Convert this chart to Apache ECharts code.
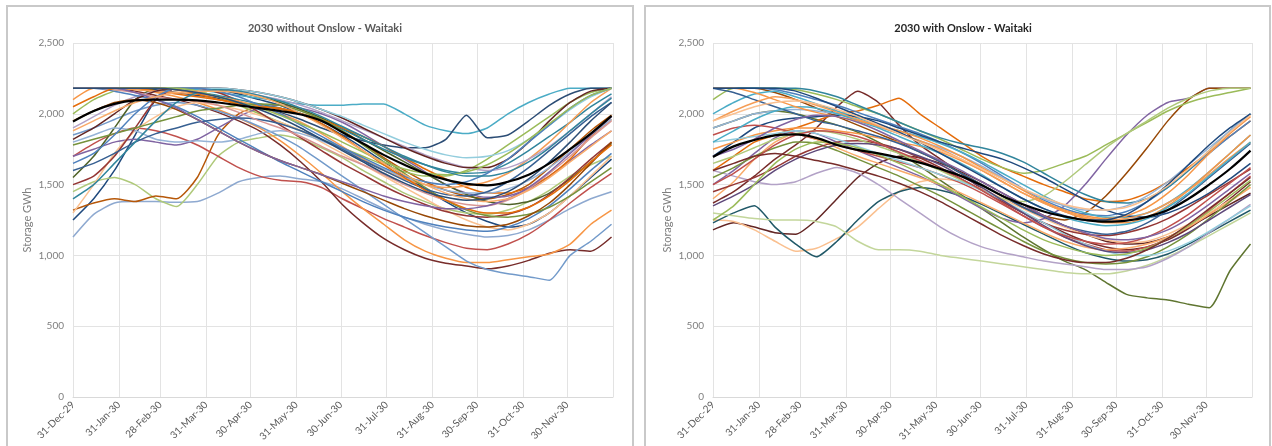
<!DOCTYPE html>
<html>
<head>
<meta charset="utf-8">
<script src="https://cdn.jsdelivr.net/npm/echarts@6/dist/echarts.min.js"></script>
<style>
    html, body { margin: 0; padding: 0; background: #fff; }
    #chart { width: 1272px; height: 446px; }
</style>
</head>
<body>
<div id="chart"></div>
<script>
// one value every 14 days, starting 31-Dec-29
const stepDays = 14;
const monthEndDays = [0, 31, 59, 90, 120, 151, 181, 212, 243, 273, 304, 334];
const monthEndLabels = ['31-Dec-29', '31-Jan-30', '28-Feb-30', '31-Mar-30', '30-Apr-30', '31-May-30',
    '30-Jun-30', '31-Jul-30', '31-Aug-30', '30-Sep-30', '31-Oct-30', '30-Nov-30'];
const lastDay = 365;
const yTicks = [0, 500, 1000, 1500, 2000, 2500];

const titles = ['2030 without Onslow - Waitaki', '2030 with Onslow - Waitaki'];

// 2030 without Onslow - Waitaki
const withoutMean = [1945, 2020, 2070, 2095, 2100, 2100, 2095, 2080, 2060, 2040, 2020, 1995, 1950, 1870, 1790, 1710, 1640, 1580, 1535, 1505, 1495, 1520, 1570, 1650, 1750, 1860, 1985];
const withoutRuns = [
    [1130, 1290, 1370, 1380, 1380, 1375, 1380, 1440, 1520, 1550, 1560, 1540, 1520, 1470, 1400, 1330, 1270, 1220, 1180, 1150, 1130, 1140, 1180, 1250, 1330, 1400, 1450],
    [1250, 1400, 1600, 1850, 2100, 2180, 2180, 2170, 2140, 2100, 2060, 2000, 1930, 1850, 1760, 1660, 1560, 1470, 1380, 1300, 1240, 1200, 1220, 1300, 1420, 1550, 1680],
    [1450, 1520, 1550, 1500, 1400, 1345, 1500, 1700, 1800, 1830, 1850, 1820, 1760, 1690, 1600, 1520, 1440, 1380, 1330, 1300, 1290, 1320, 1380, 1460, 1560, 1640, 1700],
    [1320, 1370, 1400, 1380, 1420, 1400, 1550, 1850, 2000, 2050, 2040, 2000, 1950, 1880, 1790, 1690, 1600, 1520, 1460, 1420, 1400, 1430, 1500, 1620, 1750, 1880, 1990],
    [1700, 1790, 1860, 1900, 1880, 1840, 1780, 1700, 1620, 1560, 1530, 1520, 1480, 1400, 1330, 1260, 1200, 1140, 1090, 1050, 1040, 1080, 1150, 1250, 1370, 1480, 1580],
    [2180, 2180, 2180, 2160, 2130, 2100, 2060, 2010, 1950, 1880, 1780, 1660, 1520, 1360, 1230, 1120, 1040, 980, 945, 925, 905, 925, 965, 1015, 1040, 1030, 1130],
    [2100, 2180, 2180, 2180, 2150, 2120, 2080, 2030, 1970, 1900, 1810, 1700, 1580, 1450, 1330, 1220, 1110, 1030, 980, 950, 950, 970, 990, 1010, 1080, 1220, 1320],
    [1850, 1900, 1960, 2020, 2060, 2080, 2060, 2020, 1970, 1910, 1840, 1760, 1660, 1560, 1460, 1360, 1260, 1160, 1060, 960, 900, 870, 850, 825, 1000, 1100, 1220],
    [2180, 2180, 2180, 2180, 2180, 2180, 2170, 2150, 2130, 2110, 2090, 2070, 2060, 2060, 2070, 2070, 2000, 1920, 1880, 1860, 1900, 2000, 2080, 2140, 2180, 2180, 2180],
    [2180, 2180, 2180, 2180, 2170, 2150, 2130, 2110, 2080, 2050, 2010, 1960, 1900, 1850, 1810, 1780, 1760, 1760, 1820, 1990, 1830, 1850, 1950, 2060, 2140, 2180, 2180],
    [2000, 2100, 2160, 2180, 2180, 2180, 2160, 2120, 2060, 2000, 1940, 1880, 1820, 1760, 1700, 1640, 1590, 1560, 1560, 1600, 1680, 1780, 1880, 1980, 2080, 2150, 2180],
    [1700, 1750, 1800, 1820, 1800, 1780, 1820, 1900, 1980, 2040, 2060, 2040, 2000, 1940, 1860, 1770, 1680, 1590, 1500, 1440, 1410, 1420, 1470, 1560, 1670, 1780, 1880],
    [1550, 1700, 1900, 2100, 2180, 2180, 2180, 2170, 2150, 2120, 2080, 2030, 1970, 1900, 1820, 1740, 1660, 1580, 1500, 1430, 1380, 1360, 1380, 1440, 1540, 1660, 1790],
    [2180, 2180, 2180, 2180, 2160, 2140, 2120, 2100, 2080, 2060, 2030, 2000, 1960, 1900, 1840, 1770, 1690, 1610, 1540, 1480, 1440, 1440, 1480, 1560, 1680, 1840, 1960],
    [1300, 1500, 1720, 1880, 1980, 2050, 2080, 2060, 2030, 1990, 1940, 1880, 1800, 1720, 1640, 1560, 1480, 1400, 1320, 1250, 1200, 1180, 1220, 1300, 1420, 1560, 1700],
    [1800, 1850, 1900, 1880, 1820, 1800, 1810, 1800, 1820, 1860, 1880, 1860, 1810, 1750, 1680, 1610, 1550, 1500, 1460, 1440, 1440, 1470, 1530, 1620, 1730, 1850, 1960],
    [1500, 1560, 1700, 1900, 2100, 2180, 2180, 2150, 2090, 2010, 1920, 1830, 1740, 1650, 1570, 1490, 1420, 1360, 1310, 1280, 1270, 1290, 1340, 1430, 1550, 1680, 1800],
    [2180, 2180, 2180, 2180, 2180, 2170, 2150, 2130, 2100, 2070, 2040, 2000, 1950, 1890, 1820, 1750, 1690, 1640, 1600, 1580, 1590, 1650, 1740, 1840, 1940, 2050, 2140],
    [2180, 2180, 2180, 2170, 2160, 2150, 2140, 2120, 2090, 2050, 2000, 1940, 1860, 1770, 1680, 1600, 1540, 1500, 1480, 1490, 1520, 1580, 1680, 1800, 1940, 2080, 2180],
    [1900, 1980, 2060, 2120, 2160, 2180, 2180, 2180, 2160, 2130, 2100, 2060, 2010, 1950, 1890, 1830, 1770, 1710, 1660, 1620, 1600, 1620, 1680, 1770, 1880, 2000, 2120],
    [2180, 2180, 2160, 2130, 2100, 2050, 1980, 1900, 1820, 1740, 1660, 1590, 1520, 1450, 1380, 1320, 1270, 1230, 1200, 1180, 1170, 1200, 1260, 1350, 1470, 1600, 1720],
    [1780, 1820, 1860, 1900, 1940, 1980, 2020, 2040, 2060, 2070, 2060, 2020, 1960, 1880, 1780, 1680, 1580, 1480, 1390, 1320, 1280, 1270, 1290, 1340, 1420, 1520, 1620],
    [1820, 1900, 2000, 2100, 2160, 2180, 2180, 2180, 2170, 2150, 2120, 2080, 2030, 1970, 1900, 1830, 1760, 1700, 1650, 1620, 1620, 1680, 1800, 1950, 2080, 2160, 2180],
    [2180, 2180, 2180, 2180, 2180, 2180, 2180, 2180, 2170, 2150, 2120, 2080, 2030, 1980, 1920, 1860, 1800, 1750, 1710, 1690, 1700, 1740, 1820, 1920, 2030, 2120, 2180],
    [1950, 2020, 2080, 2100, 2080, 2030, 1960, 1880, 1800, 1730, 1670, 1620, 1570, 1510, 1450, 1390, 1330, 1280, 1240, 1210, 1200, 1220, 1280, 1370, 1500, 1650, 1800],
    [1600, 1650, 1720, 1800, 1860, 1900, 1940, 1960, 1970, 1960, 1930, 1880, 1820, 1750, 1670, 1600, 1530, 1470, 1430, 1420, 1450, 1520, 1620, 1740, 1860, 1980, 2080],
    [2180, 2180, 2170, 2150, 2120, 2100, 2090, 2060, 2010, 1950, 1900, 1840, 1770, 1700, 1640, 1570, 1500, 1440, 1390, 1360, 1350, 1390, 1470, 1580, 1700, 1830, 1950],
    [1650, 1720, 1850, 2000, 2120, 2180, 2180, 2160, 2120, 2060, 2000, 1920, 1840, 1760, 1690, 1620, 1560, 1520, 1500, 1520, 1580, 1680, 1800, 1920, 2040, 2130, 2180],
    [2050, 2120, 2180, 2180, 2180, 2170, 2140, 2100, 2070, 2050, 2040, 2000, 1930, 1840, 1740, 1640, 1550, 1460, 1390, 1330, 1300, 1300, 1340, 1420, 1530, 1660, 1780],
    [2180, 2180, 2180, 2180, 2180, 2180, 2160, 2120, 2080, 2040, 1990, 1930, 1870, 1800, 1730, 1660, 1610, 1580, 1570, 1590, 1640, 1720, 1820, 1930, 2040, 2130, 2180],
    [2180, 2180, 2180, 2150, 2100, 2040, 1960, 1880, 1800, 1730, 1670, 1620, 1570, 1520, 1470, 1420, 1380, 1350, 1330, 1330, 1350, 1400, 1480, 1590, 1720, 1850, 1980],
    [1400, 1500, 1650, 1800, 1950, 2080, 2150, 2170, 2160, 2130, 2090, 2040, 1980, 1910, 1840, 1770, 1700, 1640, 1590, 1560, 1560, 1590, 1660, 1760, 1880, 2000, 2110],
    [1880, 1950, 2020, 2080, 2120, 2150, 2160, 2160, 2150, 2120, 2070, 2000, 1920, 1830, 1740, 1650, 1570, 1500, 1440, 1400, 1380, 1400, 1460, 1550, 1660, 1770, 1880],
    [2180, 2180, 2180, 2180, 2180, 2170, 2150, 2120, 2080, 2030, 1970, 1900, 1820, 1740, 1660, 1580, 1510, 1450, 1410, 1390, 1400, 1450, 1540, 1660, 1800, 1950, 2080]
];

// 2030 with Onslow - Waitaki
const withMean = [1695, 1770, 1815, 1848, 1855, 1830, 1780, 1745, 1720, 1690, 1655, 1610, 1560, 1495, 1420, 1360, 1310, 1275, 1250, 1238, 1245, 1272, 1320, 1400, 1500, 1610, 1740];
const withRuns = [
    [1900, 1950, 2000, 2020, 2000, 1960, 1920, 1870, 1800, 1720, 1630, 1530, 1430, 1330, 1230, 1130, 1040, 960, 900, 810, 725, 700, 685, 655, 630, 890, 1080],
    [1370, 1450, 1560, 1680, 1780, 1900, 2050, 2160, 2080, 1920, 1780, 1680, 1580, 1470, 1380, 1300, 1230, 1160, 1100, 1060, 1040, 1060, 1110, 1190, 1290, 1400, 1520],
    [1180, 1230, 1200, 1160, 1150, 1250, 1400, 1550, 1650, 1700, 1690, 1650, 1590, 1520, 1440, 1360, 1280, 1210, 1150, 1100, 1080, 1090, 1130, 1200, 1280, 1360, 1440],
    [1250, 1240, 1180, 1100, 1030, 1050, 1120, 1200, 1330, 1450, 1520, 1540, 1520, 1470, 1400, 1330, 1260, 1200, 1150, 1110, 1090, 1100, 1150, 1220, 1300, 1390, 1480],
    [1230, 1300, 1350, 1200, 1080, 990, 1100, 1250, 1380, 1450, 1480, 1460, 1420, 1360, 1290, 1220, 1150, 1080, 1020, 980, 960, 970, 1010, 1080, 1160, 1240, 1320],
    [1300, 1280, 1260, 1250, 1250, 1240, 1200, 1100, 1040, 1040, 1030, 1000, 980, 960, 940, 920, 900, 880, 870, 870, 890, 930, 990, 1060, 1140, 1220, 1300],
    [1600, 1700, 1800, 1850, 1900, 1950, 2000, 2020, 2060, 2110, 2000, 1900, 1800, 1700, 1620, 1560, 1500, 1450, 1400, 1380, 1390, 1440, 1520, 1620, 1730, 1840, 1950],
    [1500, 1600, 1720, 1830, 1880, 1860, 1800, 1740, 1680, 1620, 1560, 1490, 1410, 1330, 1260, 1230, 1260, 1350, 1500, 1680, 1850, 1990, 2080, 2110, 2180, 2180, 2180],
    [2180, 2180, 2180, 2150, 2100, 2040, 1980, 1920, 1860, 1800, 1730, 1660, 1580, 1500, 1420, 1340, 1280, 1250, 1300, 1420, 1580, 1760, 1950, 2100, 2180, 2180, 2180],
    [2100, 2180, 2180, 2180, 2170, 2140, 2100, 2050, 2000, 1940, 1880, 1820, 1750, 1680, 1620, 1580, 1600, 1650, 1700, 1780, 1860, 1940, 2020, 2080, 2120, 2150, 2180],
    [2180, 2180, 2180, 2170, 2140, 2100, 2060, 2010, 1960, 1910, 1860, 1800, 1730, 1650, 1560, 1470, 1390, 1330, 1290, 1280, 1310, 1380, 1480, 1600, 1720, 1840, 1950],
    [2000, 2080, 2140, 2160, 2120, 2070, 2020, 1970, 1920, 1880, 1840, 1790, 1730, 1660, 1580, 1500, 1420, 1350, 1300, 1270, 1270, 1300, 1370, 1470, 1590, 1720, 1850],
    [1700, 1800, 1900, 1950, 1970, 1980, 1990, 1980, 1950, 1900, 1850, 1800, 1760, 1720, 1680, 1620, 1550, 1470, 1390, 1320, 1280, 1270, 1300, 1360, 1440, 1540, 1650],
    [1750, 1800, 1850, 1880, 1900, 1900, 1880, 1860, 1830, 1800, 1770, 1730, 1670, 1600, 1520, 1440, 1370, 1310, 1260, 1230, 1230, 1270, 1350, 1460, 1590, 1720, 1850],
    [1850, 1900, 1920, 1900, 1860, 1820, 1780, 1740, 1700, 1660, 1620, 1570, 1510, 1440, 1360, 1280, 1200, 1130, 1080, 1040, 1030, 1060, 1120, 1210, 1320, 1440, 1560],
    [1600, 1560, 1520, 1500, 1520, 1580, 1620, 1580, 1500, 1400, 1300, 1200, 1120, 1060, 1020, 990, 960, 940, 920, 900, 900, 920, 980, 1060, 1160, 1260, 1360],
    [2180, 2180, 2180, 2180, 2180, 2160, 2120, 2060, 2000, 1940, 1880, 1830, 1790, 1760, 1720, 1660, 1580, 1500, 1430, 1380, 1370, 1400, 1480, 1600, 1740, 1880, 2000],
    [1400, 1520, 1680, 1800, 1860, 1820, 1760, 1700, 1650, 1600, 1550, 1500, 1440, 1370, 1300, 1230, 1160, 1100, 1060, 1040, 1050, 1080, 1130, 1200, 1290, 1380, 1480],
    [1550, 1620, 1700, 1760, 1800, 1790, 1740, 1680, 1620, 1560, 1490, 1420, 1340, 1260, 1180, 1100, 1030, 980, 950, 940, 950, 990, 1060, 1150, 1260, 1380, 1500],
    [1900, 1950, 2000, 2020, 2030, 2020, 2000, 1960, 1910, 1860, 1810, 1760, 1700, 1630, 1550, 1470, 1400, 1350, 1320, 1320, 1350, 1420, 1520, 1640, 1760, 1880, 2000],
    [1450, 1500, 1550, 1620, 1700, 1760, 1800, 1810, 1790, 1750, 1690, 1620, 1540, 1460, 1380, 1300, 1230, 1180, 1150, 1140, 1160, 1200, 1260, 1340, 1430, 1520, 1610],
    [2180, 2150, 2100, 2050, 2000, 1950, 1920, 1880, 1840, 1790, 1730, 1660, 1580, 1500, 1420, 1340, 1270, 1210, 1170, 1150, 1170, 1230, 1320, 1430, 1550, 1670, 1790],
    [1650, 1700, 1760, 1820, 1860, 1880, 1860, 1820, 1770, 1720, 1660, 1600, 1530, 1460, 1400, 1380, 1420, 1520, 1640, 1760, 1860, 1950, 2040, 2110, 2160, 2180, 2180],
    [1950, 2020, 2080, 2120, 2100, 2060, 2010, 1960, 1910, 1860, 1810, 1750, 1680, 1600, 1520, 1440, 1370, 1310, 1270, 1250, 1260, 1300, 1370, 1460, 1570, 1690, 1800],
    [1800, 1820, 1840, 1860, 1880, 1860, 1820, 1770, 1720, 1670, 1620, 1570, 1520, 1460, 1390, 1310, 1230, 1150, 1080, 1030, 1000, 1000, 1030, 1090, 1170, 1260, 1350],
    [1350, 1420, 1500, 1600, 1680, 1740, 1780, 1790, 1780, 1750, 1700, 1640, 1560, 1480, 1390, 1300, 1210, 1130, 1070, 1030, 1020, 1040, 1090, 1160, 1250, 1340, 1430],
    [1800, 1880, 1960, 2020, 2050, 2040, 2000, 1950, 1900, 1840, 1780, 1720, 1650, 1570, 1480, 1400, 1330, 1270, 1230, 1210, 1220, 1260, 1340, 1440, 1560, 1680, 1800],
    [1500, 1580, 1680, 1780, 1850, 1880, 1870, 1840, 1790, 1730, 1670, 1610, 1540, 1460, 1370, 1280, 1200, 1140, 1100, 1080, 1090, 1130, 1200, 1290, 1400, 1510, 1620],
    [2180, 2180, 2150, 2100, 2050, 2010, 1980, 1950, 1920, 1880, 1830, 1770, 1700, 1620, 1540, 1460, 1380, 1320, 1280, 1260, 1280, 1340, 1440, 1570, 1720, 1860, 1980],
    [1250, 1350, 1500, 1650, 1750, 1800, 1790, 1760, 1710, 1650, 1580, 1500, 1420, 1340, 1260, 1180, 1110, 1060, 1020, 1000, 1010, 1050, 1120, 1210, 1310, 1420, 1530],
    [2180, 2180, 2180, 2180, 2160, 2110, 2050, 1990, 1930, 1870, 1800, 1720, 1640, 1560, 1480, 1400, 1330, 1280, 1250, 1250, 1290, 1380, 1500, 1640, 1780, 1900, 2000],
    [1700, 1750, 1820, 1900, 1960, 1990, 1980, 1940, 1880, 1810, 1740, 1670, 1600, 1520, 1440, 1360, 1280, 1210, 1160, 1120, 1110, 1130, 1180, 1260, 1360, 1470, 1580],
    [1950, 2000, 2050, 2080, 2090, 2070, 2030, 1980, 1920, 1860, 1800, 1740, 1680, 1610, 1540, 1470, 1410, 1360, 1330, 1320, 1340, 1400, 1490, 1610, 1740, 1870, 1990],
    [1600, 1650, 1700, 1720, 1700, 1670, 1640, 1600, 1560, 1510, 1450, 1380, 1300, 1220, 1140, 1070, 1010, 970, 950, 950, 980, 1040, 1120, 1220, 1330, 1440, 1550]
];

const withoutColors = ['#8EA9D0', '#1F497D', '#AFC97A', '#B65708', '#C0504D', '#772C2A', '#F79646', '#729ACA',
    '#4BACC6', '#2C4D75', '#9BBB59', '#8064A2', '#4F6228', '#E46C0A', '#FAC090', '#95B3D7',
    '#953735', '#31859C', '#F59D56', '#B3A2C7', '#4F81BD', '#76923C', '#632523', '#93CDDD', '#974806', '#376092',
    '#D99694', '#4F81BD', '#E46C0A', '#9BBB59', '#8064A2', '#31859C', '#F9AB6B', '#2C4D75'];
const withColors = ['#5F7530', '#772C2A', '#632523', '#FAC090', '#215968', '#C3D69B', '#E46C0A', '#8064A2',
    '#974806', '#9BBB59', '#4F81BD', '#4BACC6', '#1F497D', '#F79646', '#C0504D', '#B3A2C7',
    '#31859C', '#F9AB6B', '#76923C', '#95B3D7', '#953735', '#376092', '#AFC97A', '#F59D56', '#93CDDD', '#5F497A',
    '#4BACC6', '#C0504D', '#F79646', '#9BBB59', '#1F497D', '#8064A2', '#FAC090', '#772C2A'];

const fontFamily = 'Lato, "Liberation Sans", sans-serif';

let myChart = echarts.init(document.getElementById('chart'), null, {renderer: 'canvas'});

// category per day, only month ends carry a label
let dayCategories = [];
for (let d = 0; d <= lastDay; d++) {
    let k = monthEndDays.indexOf(d);
    dayCategories.push(k >= 0 ? monthEndLabels[k] : '');
}

function isGridDay(index) {
    return monthEndDays.indexOf(index) >= 0 || index === lastDay;
}

function toPoints(values) {
    return values.map((v, i) => [i * stepDays, v]);
}

let grids = [
    {left: 73, right: 659, top: 43, bottom: 49},
    {left: 713, right: 20, top: 43, bottom: 49}
];

let xAxes = [0, 1].map(g => ({
    type: 'category',
    gridIndex: g,
    data: dayCategories,
    boundaryGap: false,
    axisLine: {lineStyle: {color: '#d9d9d9'}},
    axisTick: {show: false},
    axisLabel: {
        interval: function (index) { return monthEndDays.indexOf(index) >= 0; },
        rotate: 45,
        color: '#595959',
        fontSize: 10,
        fontFamily: fontFamily,
        margin: 6
    },
    splitLine: {
        show: true,
        interval: isGridDay,
        lineStyle: {color: '#e3e3e3', width: 1}
    }
}));

let yAxes = [0, 1].map(g => ({
    type: 'value',
    gridIndex: g,
    min: yTicks[0],
    max: yTicks[yTicks.length - 1],
    interval: yTicks[1] - yTicks[0],
    name: 'Storage GWh',
    nameLocation: 'middle',
    nameGap: 40,
    nameTextStyle: {color: '#7f7f7f', fontSize: 11, fontFamily: fontFamily},
    axisLine: {show: false},
    axisTick: {show: false},
    axisLabel: {
        color: '#7f7f7f',
        fontSize: 10,
        fontFamily: fontFamily,
        margin: 9,
        formatter: v => v.toLocaleString('en-US')
    },
    splitLine: {lineStyle: {color: '#e3e3e3', width: 1}}
}));

let series = [];
[[withoutRuns, withoutColors], [withRuns, withColors]].forEach((pair, g) => {
    pair[0].forEach((run, i) => {
        series.push({
            type: 'line',
            xAxisIndex: g,
            yAxisIndex: g,
            data: toPoints(run),
            symbol: 'none',
            smooth: 0.2,
            silent: true,
            lineStyle: {width: 1.5, color: pair[1][i % pair[1].length]}
        });
    });
});
[withoutMean, withMean].forEach((mean, g) => {
    series.push({
        type: 'line',
        xAxisIndex: g,
        yAxisIndex: g,
        data: toPoints(mean),
        symbol: 'none',
        smooth: 0.4,
        silent: true,
        z: 5,
        lineStyle: {width: 2.2, color: '#000'}
    });
});

let option = {
    animation: false,
    backgroundColor: '#fff',
    title: [
        {
            text: titles[0], left: 320, top: 18, textAlign: 'center',
            textStyle: {fontSize: 11, fontWeight: 'bold', color: '#595959', fontFamily: fontFamily}
        },
        {
            text: titles[1], left: 958, top: 18, textAlign: 'center',
            textStyle: {fontSize: 11, fontWeight: 'bold', color: '#262626', fontFamily: fontFamily}
        }
    ],
    graphic: [
        {type: 'rect', shape: {x: 7, y: 6, width: 626, height: 460}, style: {fill: 'none', stroke: '#c9c9c9', lineWidth: 2}, z: -1},
        {type: 'rect', shape: {x: 645, y: 6, width: 625, height: 460}, style: {fill: 'none', stroke: '#c9c9c9', lineWidth: 2}, z: -1}
    ],
    grid: grids,
    xAxis: xAxes,
    yAxis: yAxes,
    series: series
};

myChart.setOption(option);
</script>
</body>
</html>
